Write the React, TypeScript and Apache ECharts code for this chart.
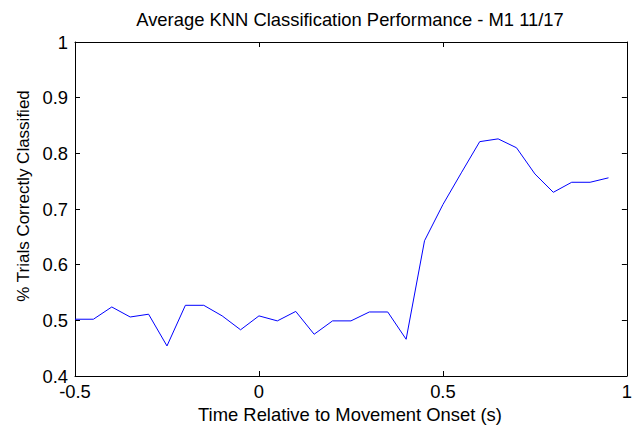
import React, { useEffect, useRef } from "react";
import * as echarts from "echarts";

const times = [
  -0.5, -0.45, -0.4, -0.35, -0.3, -0.25, -0.2, -0.15, -0.1, -0.05,
  0, 0.05, 0.1, 0.15, 0.2, 0.25, 0.3, 0.35, 0.4, 0.45,
  0.5, 0.55, 0.6, 0.65, 0.7, 0.75, 0.8, 0.85, 0.9, 0.95,
];
const accuracy = [
  0.502, 0.502, 0.524, 0.506, 0.511, 0.454, 0.527, 0.527, 0.508, 0.483,
  0.508, 0.499, 0.516, 0.475, 0.499, 0.499, 0.515, 0.515, 0.466, 0.643,
  0.708, 0.765, 0.821, 0.826, 0.810, 0.763, 0.730, 0.748, 0.748, 0.756,
];
const titleText = "Average KNN Classification Performance - M1 11/17";
const xLabel = "Time Relative to Movement Onset (s)";
const yLabel = "% Trials Correctly Classified";

const FONT = "Liberation Sans, Arial, sans-serif";

export default function App() {
  const ref = useRef<HTMLDivElement>(null);
  useEffect(() => {
    if (!ref.current) return;
    const chart = echarts.init(ref.current, undefined, { renderer: "svg" });
    const fmt = (v: number) => String(Math.round(v * 10) / 10);
    const axisLine = { show: true, onZero: false, lineStyle: { color: "#000", width: 1 } };
    const tick = { show: true, inside: true, length: 5, lineStyle: { color: "#000" } };
    const labelStyle = { fontFamily: FONT, fontSize: 18.4, color: "#000", formatter: fmt };
    chart.setOption({
      animation: false,
      backgroundColor: "#fff",
      grid: { left: 75, right: 3, top: 42, bottom: 54, containLabel: false },
      xAxis: [
        {
          type: "value", min: -0.5, max: 1, interval: 0.5, position: "bottom",
          axisLine, axisTick: tick,
          axisLabel: { ...labelStyle, margin: 6 },
          splitLine: { show: false },
        },
        {
          type: "value", min: -0.5, max: 1, interval: 0.5, position: "top",
          axisLine, axisTick: tick, axisLabel: { show: false }, splitLine: { show: false },
        },
      ],
      yAxis: [
        {
          type: "value", min: 0.4, max: 1, interval: 0.1, position: "left",
          axisLine, axisTick: tick,
          axisLabel: { ...labelStyle, margin: 7 },
          splitLine: { show: false },
        },
        {
          type: "value", min: 0.4, max: 1, interval: 0.1, position: "right",
          axisLine, axisTick: tick, axisLabel: { show: false }, splitLine: { show: false },
        },
      ],
      graphic: [
        {
          type: "text", x: 350, y: 10,
          style: { text: titleText, font: `18.4px ${FONT}`, fill: "#000", align: "center", verticalAlign: "top" },
        },
        {
          type: "text", x: 350, y: 405,
          style: { text: xLabel, font: `18.4px ${FONT}`, fill: "#000", align: "center", verticalAlign: "top" },
        },
        {
          type: "text", x: 23, y: 196, rotation: Math.PI / 2,
          style: { text: yLabel, font: `17px ${FONT}`, fill: "#000", align: "center", verticalAlign: "middle" },
        },
      ],
      series: [
        {
          type: "line", xAxisIndex: 0, yAxisIndex: 0,
          data: times.map((t, i) => [t, accuracy[i]]),
          showSymbol: false, symbol: "none",
          lineStyle: { color: "#0000ff", width: 1 },
        },
      ],
    });
    return () => chart.dispose();
  }, []);
  return <div ref={ref} style={{ position: "absolute", left: 0, top: 0, width: 635, height: 430 }} />;
}
